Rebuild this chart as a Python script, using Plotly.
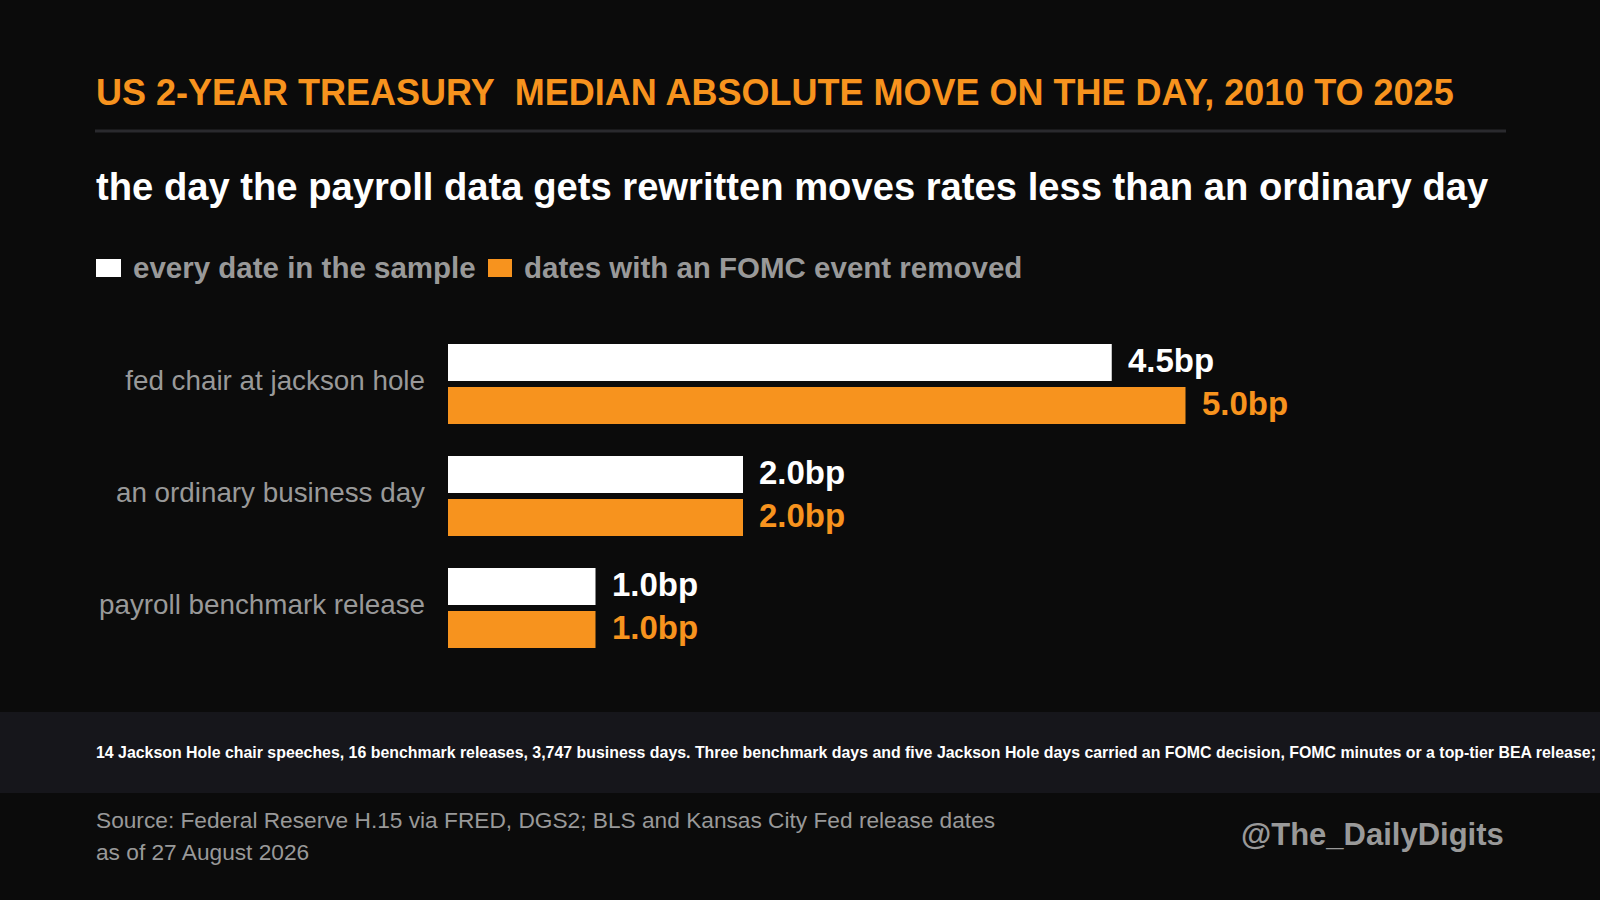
import plotly.graph_objects as go

categories = ["fed chair at jackson hole", "an ordinary business day", "payroll benchmark release"]
all_dates = [4.5, 2.0, 1.0]
fomc_removed = [5.0, 2.0, 1.0]
series_names = ["every date in the sample", "dates with an FOMC event removed"]

TITLE = "US 2-YEAR TREASURY\u00a0 MEDIAN ABSOLUTE MOVE ON THE DAY, 2010 TO 2025"
SUBTITLE = "the day the payroll data gets rewritten moves rates less than an ordinary day"
FOOTNOTE = (
    "14 Jackson Hole chair speeches, 16 benchmark releases, 3,747 business days. "
    "Three benchmark days and five Jackson Hole days carried an FOMC decision, FOMC minutes "
    "or a top-tier BEA release; removing them leaves 13 benchmark days and 9 Jackson Hole days."
)
SOURCE_LINES = [
    "Source: Federal Reserve H.15 via FRED, DGS2; BLS and Kansas City Fed release dates",
    "as of 27 August 2026",
]
HANDLE = "@The_DailyDigits"

BG = "#0b0b0b"
ORANGE = "#f7931e"
WHITE = "#ffffff"
GRAY = "#999999"
FONT = "Liberation Sans, Arial, sans-serif"

W, H = 1600, 900
# plot area in pixels
X0, X1 = 448, 1568
Y0, Y1 = 328, 664


def px(x):
    return x / W


def py(y):
    return 1 - y / H


fig = go.Figure()
for name, vals, color in [(series_names[0], all_dates, WHITE), (series_names[1], fomc_removed, ORANGE)]:
    fig.add_trace(
        go.Bar(
            y=categories,
            x=vals,
            name=name,
            orientation="h",
            marker=dict(color=color, line=dict(width=0)),
            showlegend=False,
            hoverinfo="skip",
        )
    )

# value labels next to each bar
annotations = []
for vals, color, shift in [(all_dates, WHITE, 24), (fomc_removed, ORANGE, -19)]:
    for cat, v in zip(categories, vals):
        annotations.append(
            dict(
                x=v, y=cat, xref="x", yref="y", text=f"{v:.1f}bp",
                xanchor="left", yanchor="middle", xshift=14, yshift=shift,
                showarrow=False, font=dict(family=FONT, size=33, color=color, weight="bold"),
            )
        )

# titles, legend, footer
annotations += [
    dict(x=px(94), y=py(93), text=TITLE, xanchor="left", yanchor="middle",
         font=dict(family=FONT, size=36, color=ORANGE, weight="bold")),
    dict(x=px(94), y=py(186), text=SUBTITLE, xanchor="left", yanchor="middle",
         font=dict(family=FONT, size=38.2, color=WHITE, weight="bold")),
    dict(x=px(131), y=py(268), text=series_names[0], xanchor="left", yanchor="middle",
         font=dict(family=FONT, size=29.5, color=GRAY, weight="bold")),
    dict(x=px(522), y=py(268), text=series_names[1], xanchor="left", yanchor="middle",
         font=dict(family=FONT, size=29.5, color=GRAY, weight="bold")),
    dict(x=px(94), y=py(752), text=FOOTNOTE, xanchor="left", yanchor="middle",
         font=dict(family=FONT, size=15.9, color=WHITE, weight="bold")),
    dict(x=px(94), y=py(820), text=SOURCE_LINES[0], xanchor="left", yanchor="middle",
         font=dict(family=FONT, size=22.7, color=GRAY)),
    dict(x=px(94), y=py(852), text=SOURCE_LINES[1], xanchor="left", yanchor="middle",
         font=dict(family=FONT, size=22.7, color=GRAY)),
    dict(x=px(1506), y=py(834), text=HANDLE, xanchor="right", yanchor="middle",
         font=dict(family=FONT, size=31, color=GRAY, weight="bold")),
]
for a in annotations:
    a.setdefault("xref", "paper")
    a.setdefault("yref", "paper")
    a.setdefault("showarrow", False)

shapes = [
    dict(type="line", xref="paper", yref="paper", x0=px(95), x1=px(1506), y0=py(131), y1=py(131),
         line=dict(color="#2a2a2e", width=3)),
    dict(type="rect", xref="paper", yref="paper", x0=px(96), x1=px(121), y0=py(259), y1=py(277),
         fillcolor=WHITE, line=dict(width=0)),
    dict(type="rect", xref="paper", yref="paper", x0=px(488), x1=px(512), y0=py(259), y1=py(277),
         fillcolor=ORANGE, line=dict(width=0)),
    dict(type="rect", xref="paper", yref="paper", x0=0, x1=1, y0=py(793), y1=py(712),
         fillcolor="#16161b", line=dict(width=0), layer="below"),
]

fig.update_layout(
    width=W,
    height=H,
    paper_bgcolor=BG,
    plot_bgcolor=BG,
    margin=dict(l=0, r=0, t=0, b=0, pad=0),
    barmode="group",
    bargap=0.23,
    bargroupgap=0.142,
    xaxis=dict(domain=[px(X0), px(X1)], range=[0, (X1 - X0) / 147.5], visible=False, fixedrange=True),
    yaxis=dict(
        domain=[py(Y1), py(Y0)],
        autorange="reversed",
        showgrid=False,
        zeroline=False,
        showline=False,
        ticks="",
        ticklabelstandoff=22,
        ticklabelshift=4,
        tickfont=dict(family=FONT, size=27.8, color=GRAY),
        fixedrange=True,
    ),
    font=dict(family=FONT),
    annotations=annotations,
    shapes=shapes,
)

fig.write_html(
    "out.html",
    config={"displayModeBar": False},
    post_script="document.body.style.margin='0';document.body.style.background='#0b0b0b';",
)
